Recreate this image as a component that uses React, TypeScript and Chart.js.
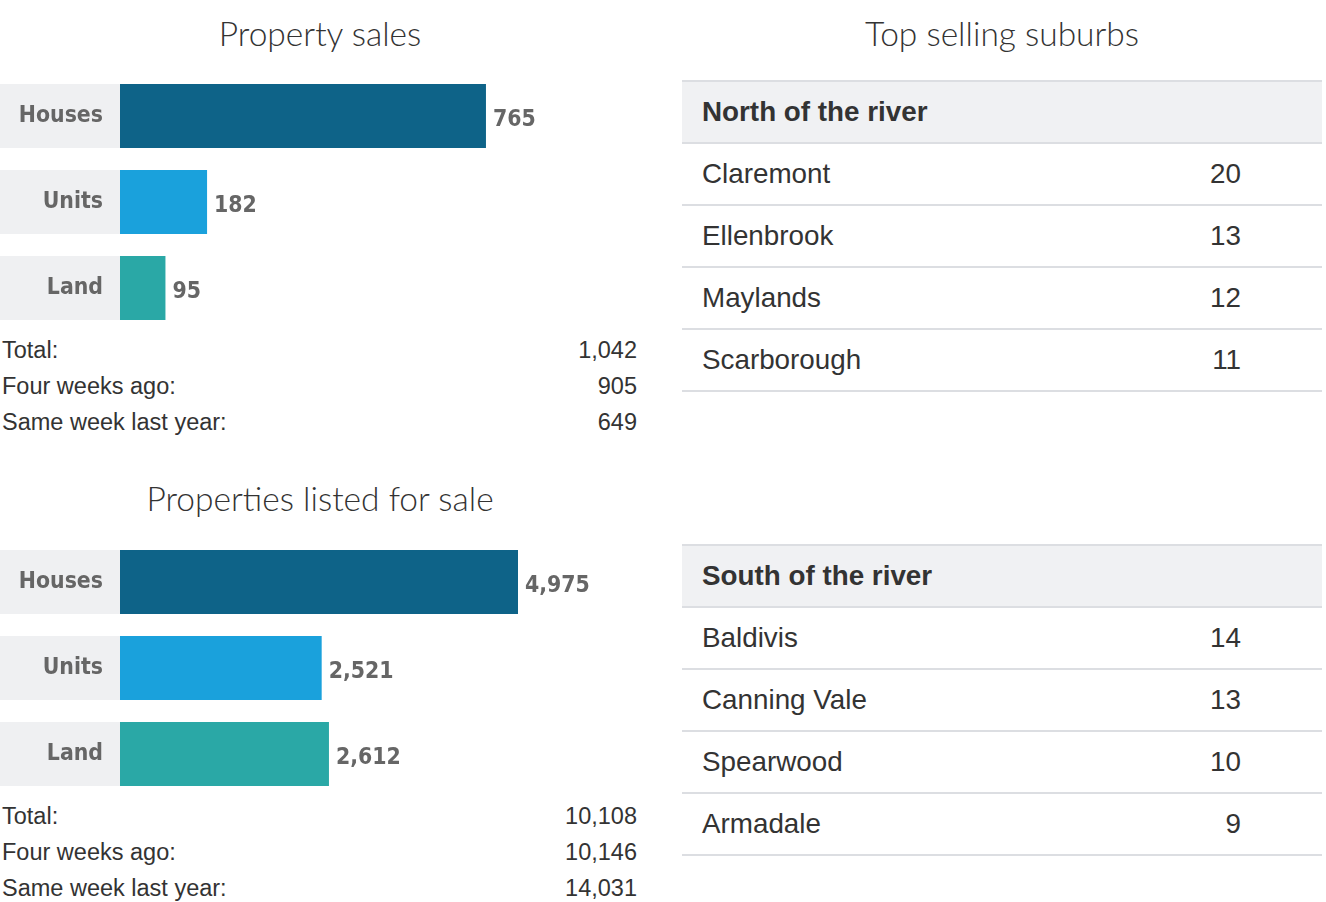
import React, { useEffect, useRef } from "react";
import { Chart, registerables } from "chart.js";

Chart.register(...registerables);

const categories = ["Houses", "Units", "Land"];
const barColors = ["#0e6388", "#1aa1dc", "#2aa8a6"];

const salesValues = [765, 182, 95];
const salesAxisMax = 1087;
const salesStatLabels = ["Total:", "Four weeks ago:", "Same week last year:"];
const salesStatValues = ["1,042", "905", "649"];

const listingValues = [4975, 2521, 2612];
const listingAxisMax = 6500;
const listingStatLabels = ["Total:", "Four weeks ago:", "Same week last year:"];
const listingStatValues = ["10,108", "10,146", "14,031"];

const northSuburbs = ["Claremont", "Ellenbrook", "Maylands", "Scarborough"];
const northCounts = [20, 13, 12, 11];
const southSuburbs = ["Baldivis", "Canning Vale", "Spearwood", "Armadale"];
const southCounts = [14, 13, 10, 9];

const BAR_FONT = "'DejaVu Sans Condensed', 'DejaVu Sans', Verdana, sans-serif";
const BAR_FONT_SIZE = 22.8;
const TITLE_FONT = "Lato, 'Open Sans', sans-serif";
const TEXT_FONT = "'Liberation Sans', Arial, Helvetica, sans-serif";

const bgPlugin = {
  id: "labelBg",
  beforeDraw(chart: any) {
    const ctx = chart.ctx;
    const meta = chart.getDatasetMeta(0);
    ctx.save();
    ctx.fillStyle = "#eff0f2";
    meta.data.forEach((bar: any) => {
      const h = bar.height;
      ctx.fillRect(0, bar.y - h / 2, chart.chartArea.left, h);
    });
    ctx.restore();
  },
  afterDatasetsDraw(chart: any) {
    const ctx = chart.ctx;
    const meta = chart.getDatasetMeta(0);
    const data = chart.data.datasets[0].data;
    ctx.save();
    ctx.fillStyle = "#666666";
    ctx.font = `bold ${BAR_FONT_SIZE}px ${BAR_FONT}`;
    ctx.textAlign = "left";
    ctx.textBaseline = "middle";
    meta.data.forEach((bar: any, i: number) => {
      ctx.fillText(Number(data[i]).toLocaleString("en-US"), bar.x + 7, bar.y + 4);
    });
    ctx.restore();
  },
};

function BarBlock({ values, axisMax }: { values: number[]; axisMax: number }) {
  const ref = useRef<HTMLCanvasElement>(null);
  useEffect(() => {
    const chart = new Chart(ref.current as HTMLCanvasElement, {
      type: "bar",
      data: {
        labels: categories,
        datasets: [
          {
            data: values,
            backgroundColor: barColors,
            categoryPercentage: 1,
            barPercentage: 64 / 86,
            borderWidth: 0,
          },
        ],
      },
      options: {
        indexAxis: "y",
        animation: false,
        responsive: false,
        maintainAspectRatio: false,
        layout: { padding: 0 },
        plugins: { legend: { display: false }, tooltip: { enabled: false }, title: { display: false } },
        scales: {
          x: { display: false, min: 0, max: axisMax },
          y: {
            grid: { display: false, drawTicks: false },
            border: { display: false },
            ticks: {
              padding: 17,
              color: "#666666",
              font: { family: BAR_FONT, size: BAR_FONT_SIZE, weight: "bold" },
            },
            afterFit: (scale: any) => {
              scale.width = 120;
              scale.paddingTop = 0;
              scale.paddingBottom = 0;
            },
          },
        },
      },
      plugins: [bgPlugin],
    } as any);
    return () => chart.destroy();
  }, []);
  return <canvas ref={ref} width={640} height={258} style={{ display: "block", width: 640, height: 258 }} />;
}

function Title({ text, top, left }: { text: string; top: number; left: number }) {
  return (
    <div
      style={{
        position: "absolute",
        top,
        left,
        width: 640,
        textAlign: "center",
        fontFamily: TITLE_FONT,
        fontWeight: 300,
        fontSize: 33.5,
        lineHeight: "40px",
        color: "#333",
      }}
    >
      {text}
    </div>
  );
}

function Stats({ labels, values, top }: { labels: string[]; values: string[]; top: number }) {
  return (
    <div style={{ position: "absolute", top, left: 2, width: 635, fontFamily: TEXT_FONT, fontSize: 23.5, color: "#333" }}>
      {labels.map((l, i) => (
        <div key={l} style={{ display: "flex", justifyContent: "space-between", height: 36, lineHeight: "36px" }}>
          <span>{l}</span>
          <span>{values[i]}</span>
        </div>
      ))}
    </div>
  );
}

function SuburbTable({ heading, names, counts, top }: { heading: string; names: string[]; counts: number[]; top: number }) {
  const rowStyle: React.CSSProperties = {
    height: 60,
    borderTop: "2px solid #dcdee2",
    display: "flex",
    alignItems: "center",
    justifyContent: "space-between",
    paddingLeft: 20,
    paddingRight: 81,
  };
  return (
    <div
      style={{
        position: "absolute",
        top,
        left: 682,
        width: 640,
        fontFamily: TEXT_FONT,
        fontSize: 27.8,
        color: "#333",
        borderBottom: "2px solid #dcdee2",
      }}
    >
      <div style={{ ...rowStyle, background: "#f0f1f3", fontWeight: "bold" }}>
        <span>{heading}</span>
      </div>
      {names.map((n, i) => (
        <div key={n} style={rowStyle}>
          <span>{n}</span>
          <span>{counts[i]}</span>
        </div>
      ))}
    </div>
  );
}

export default function App() {
  useEffect(() => {
    document.body.style.margin = "0";
    document.body.style.background = "#fff";
  }, []);
  return (
    <div style={{ position: "relative", width: 1326, height: 902, background: "#fff", overflow: "hidden" }}>
      <Title text="Property sales" top={13} left={0} />
      <div style={{ position: "absolute", top: 73, left: 0 }}>
        <BarBlock values={salesValues} axisMax={salesAxisMax} />
      </div>
      <Stats labels={salesStatLabels} values={salesStatValues} top={332} />

      <Title text="Properties listed for sale" top={478} left={0} />
      <div style={{ position: "absolute", top: 539, left: 0 }}>
        <BarBlock values={listingValues} axisMax={listingAxisMax} />
      </div>
      <Stats labels={listingStatLabels} values={listingStatValues} top={798} />

      <Title text="Top selling suburbs" top={13} left={682} />
      <SuburbTable heading="North of the river" names={northSuburbs} counts={northCounts} top={80} />
      <SuburbTable heading="South of the river" names={southSuburbs} counts={southCounts} top={544} />
    </div>
  );
}
